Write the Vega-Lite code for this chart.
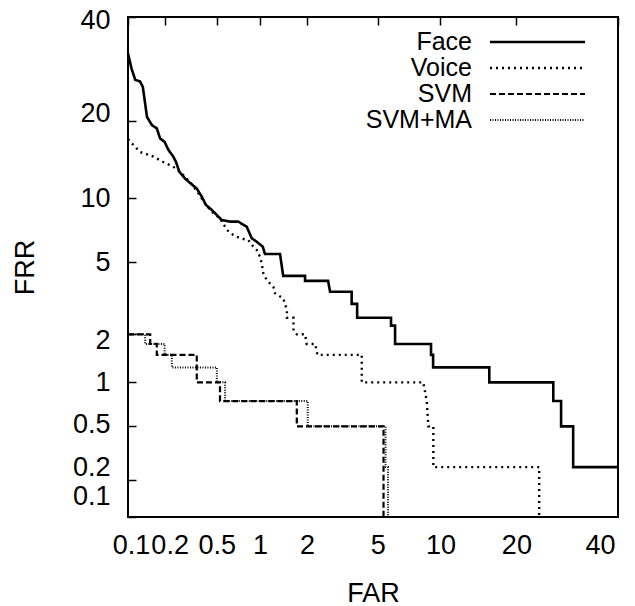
{
 "$schema": "https://vega.github.io/schema/vega-lite/v6.json",
 "width": 490, "height": 500,
 "autosize": "none",
 "padding": {"left": 128, "top": 17, "right": 17, "bottom": 89},
 "background": "white",
 "config": {
  "view": {"stroke": "black", "strokeWidth": 2},
  "font": "Liberation Sans",
  "axis": {"domain": false, "ticks": true, "tickColor": "transparent", "tickSize": 8, "offset": 0,
   "grid": true, "gridColor": "black", "gridOpacity": 1, "gridWidth": 1.5, "gridDash": [8, 2000],
   "labelFontSize": 27, "labelColor": "black", "labelFont": "Liberation Sans",
   "titleFont": "Liberation Sans", "titleFontSize": 27, "titleFontWeight": "normal", "titleColor": "black"}
 },
 "data": {"values": [
  {"s":"Face","i":1,"FAR":0.1,"FRR":32.3},{"s":"Face","i":2,"FAR":0.107,"FRR":29.3},{"s":"Face","i":3,"FAR":0.115,"FRR":27.1},
  {"s":"Face","i":4,"FAR":0.126,"FRR":26.8},{"s":"Face","i":5,"FAR":0.133,"FRR":25.8},{"s":"Face","i":6,"FAR":0.144,"FRR":20.6},
  {"s":"Face","i":7,"FAR":0.158,"FRR":19.3},{"s":"Face","i":8,"FAR":0.173,"FRR":18.8},{"s":"Face","i":9,"FAR":0.184,"FRR":17.3},
  {"s":"Face","i":10,"FAR":0.2,"FRR":16.8},{"s":"Face","i":11,"FAR":0.214,"FRR":15.7},{"s":"Face","i":12,"FAR":0.234,"FRR":14.8},
  {"s":"Face","i":13,"FAR":0.246,"FRR":14.1},{"s":"Face","i":14,"FAR":0.261,"FRR":12.9},{"s":"Face","i":15,"FAR":0.289,"FRR":12.1},
  {"s":"Face","i":16,"FAR":0.316,"FRR":11.6},{"s":"Face","i":17,"FAR":0.355,"FRR":11.0},{"s":"Face","i":18,"FAR":0.387,"FRR":10.15},
  {"s":"Face","i":19,"FAR":0.416,"FRR":9.35},{"s":"Face","i":20,"FAR":0.459,"FRR":8.88},{"s":"Face","i":21,"FAR":0.5,"FRR":8.43},
  {"s":"Face","i":22,"FAR":0.542,"FRR":8.0},{"s":"Face","i":23,"FAR":0.622,"FRR":7.86},{"s":"Face","i":24,"FAR":0.711,"FRR":7.86},
  {"s":"Face","i":25,"FAR":0.813,"FRR":7.45},{"s":"Face","i":26,"FAR":0.88,"FRR":6.57},{"s":"Face","i":27,"FAR":0.952,"FRR":6.32},
  {"s":"Face","i":28,"FAR":1.044,"FRR":5.98},{"s":"Face","i":29,"FAR":1.08,"FRR":5.5},{"s":"Face","i":30,"FAR":1.355,"FRR":5.5},
  {"s":"Face","i":31,"FAR":1.42,"FRR":4.25},{"s":"Face","i":32,"FAR":1.945,"FRR":4.25},{"s":"Face","i":33,"FAR":1.945,"FRR":4.0},
  {"s":"Face","i":34,"FAR":2.67,"FRR":4.0},{"s":"Face","i":35,"FAR":2.74,"FRR":3.5},{"s":"Face","i":36,"FAR":3.63,"FRR":3.5},
  {"s":"Face","i":37,"FAR":3.63,"FRR":3.0},{"s":"Face","i":38,"FAR":3.89,"FRR":3.0},{"s":"Face","i":39,"FAR":3.89,"FRR":2.5},
  {"s":"Face","i":40,"FAR":5.85,"FRR":2.5},{"s":"Face","i":41,"FAR":5.85,"FRR":2.25},{"s":"Face","i":42,"FAR":6.13,"FRR":2.25},
  {"s":"Face","i":43,"FAR":6.13,"FRR":1.75},{"s":"Face","i":44,"FAR":9.08,"FRR":1.75},{"s":"Face","i":45,"FAR":9.08,"FRR":1.5},
  {"s":"Face","i":46,"FAR":9.28,"FRR":1.5},{"s":"Face","i":47,"FAR":9.28,"FRR":1.25},{"s":"Face","i":48,"FAR":15.9,"FRR":1.25},
  {"s":"Face","i":49,"FAR":15.9,"FRR":1.0},{"s":"Face","i":50,"FAR":26.5,"FRR":1.0},{"s":"Face","i":51,"FAR":26.5,"FRR":0.75},
  {"s":"Face","i":52,"FAR":28.0,"FRR":0.75},{"s":"Face","i":53,"FAR":28.0,"FRR":0.5},{"s":"Face","i":54,"FAR":30.4,"FRR":0.5},
  {"s":"Face","i":55,"FAR":30.4,"FRR":0.25},{"s":"Face","i":56,"FAR":40,"FRR":0.25},
  {"s":"Voice","i":1,"FAR":0.1,"FRR":17.2},{"s":"Voice","i":2,"FAR":0.115,"FRR":16.1},{"s":"Voice","i":3,"FAR":0.126,"FRR":15.4},
  {"s":"Voice","i":4,"FAR":0.144,"FRR":15.1},{"s":"Voice","i":5,"FAR":0.162,"FRR":14.8},{"s":"Voice","i":6,"FAR":0.195,"FRR":14.1},
  {"s":"Voice","i":7,"FAR":0.234,"FRR":13.5},{"s":"Voice","i":8,"FAR":0.264,"FRR":12.9},{"s":"Voice","i":9,"FAR":0.316,"FRR":11.7},
  {"s":"Voice","i":10,"FAR":0.365,"FRR":10.5},{"s":"Voice","i":11,"FAR":0.409,"FRR":9.5},{"s":"Voice","i":12,"FAR":0.459,"FRR":8.72},
  {"s":"Voice","i":13,"FAR":0.527,"FRR":8.14},{"s":"Voice","i":14,"FAR":0.592,"FRR":7.19},{"s":"Voice","i":15,"FAR":0.656,"FRR":6.81},
  {"s":"Voice","i":16,"FAR":0.731,"FRR":6.57},{"s":"Voice","i":17,"FAR":0.834,"FRR":6.44},{"s":"Voice","i":18,"FAR":0.902,"FRR":5.98},
  {"s":"Voice","i":19,"FAR":0.952,"FRR":5.76},{"s":"Voice","i":20,"FAR":1.0,"FRR":5.33},{"s":"Voice","i":21,"FAR":1.028,"FRR":4.94},
  {"s":"Voice","i":22,"FAR":1.053,"FRR":4.39},{"s":"Voice","i":23,"FAR":1.11,"FRR":4.04},{"s":"Voice","i":24,"FAR":1.226,"FRR":3.72},
  {"s":"Voice","i":25,"FAR":1.258,"FRR":3.43},{"s":"Voice","i":26,"FAR":1.42,"FRR":3.22},{"s":"Voice","i":27,"FAR":1.5,"FRR":2.77},
  {"s":"Voice","i":28,"FAR":1.5,"FRR":2.5},{"s":"Voice","i":29,"FAR":1.65,"FRR":2.5},{"s":"Voice","i":30,"FAR":1.65,"FRR":2.1},
  {"s":"Voice","i":31,"FAR":1.73,"FRR":2.0},{"s":"Voice","i":32,"FAR":1.945,"FRR":2.0},{"s":"Voice","i":33,"FAR":1.99,"FRR":1.75},
  {"s":"Voice","i":34,"FAR":2.24,"FRR":1.75},{"s":"Voice","i":35,"FAR":2.31,"FRR":1.5},{"s":"Voice","i":36,"FAR":4.12,"FRR":1.5},
  {"s":"Voice","i":37,"FAR":4.12,"FRR":1.0},{"s":"Voice","i":38,"FAR":8.37,"FRR":1.0},{"s":"Voice","i":39,"FAR":8.68,"FRR":0.75},
  {"s":"Voice","i":40,"FAR":8.83,"FRR":0.5},{"s":"Voice","i":41,"FAR":9.3,"FRR":0.5},{"s":"Voice","i":42,"FAR":9.3,"FRR":0.25},
  {"s":"Voice","i":43,"FAR":23.9,"FRR":0.25},{"s":"Voice","i":44,"FAR":23.9,"FRR":0.1},
  {"s":"SVM","i":1,"FAR":0.1,"FRR":2},{"s":"SVM","i":2,"FAR":0.153,"FRR":2},{"s":"SVM","i":3,"FAR":0.153,"FRR":1.75},
  {"s":"SVM","i":4,"FAR":0.173,"FRR":1.75},{"s":"SVM","i":5,"FAR":0.173,"FRR":1.5},{"s":"SVM","i":6,"FAR":0.355,"FRR":1.5},
  {"s":"SVM","i":7,"FAR":0.355,"FRR":1.0},{"s":"SVM","i":8,"FAR":0.527,"FRR":1.0},{"s":"SVM","i":9,"FAR":0.527,"FRR":0.75},
  {"s":"SVM","i":10,"FAR":1.73,"FRR":0.75},{"s":"SVM","i":11,"FAR":1.73,"FRR":0.5},{"s":"SVM","i":12,"FAR":5.36,"FRR":0.5},
  {"s":"SVM","i":13,"FAR":5.36,"FRR":0.1},
  {"s":"SVM+MA","i":1,"FAR":0.1,"FRR":2},{"s":"SVM+MA","i":2,"FAR":0.139,"FRR":2},{"s":"SVM+MA","i":3,"FAR":0.139,"FRR":1.75},
  {"s":"SVM+MA","i":4,"FAR":0.2,"FRR":1.75},{"s":"SVM+MA","i":5,"FAR":0.2,"FRR":1.5},{"s":"SVM+MA","i":6,"FAR":0.228,"FRR":1.5},
  {"s":"SVM+MA","i":7,"FAR":0.228,"FRR":1.25},{"s":"SVM+MA","i":8,"FAR":0.5,"FRR":1.25},{"s":"SVM+MA","i":9,"FAR":0.5,"FRR":1.0},
  {"s":"SVM+MA","i":10,"FAR":0.573,"FRR":1.0},{"s":"SVM+MA","i":11,"FAR":0.573,"FRR":0.75},{"s":"SVM+MA","i":12,"FAR":2.02,"FRR":0.75},
  {"s":"SVM+MA","i":13,"FAR":2.02,"FRR":0.5},{"s":"SVM+MA","i":14,"FAR":5.49,"FRR":0.5},{"s":"SVM+MA","i":15,"FAR":5.49,"FRR":0.25},
  {"s":"SVM+MA","i":16,"FAR":5.65,"FRR":0.25},{"s":"SVM+MA","i":17,"FAR":5.65,"FRR":0.1}
 ]},
 "transform": [
  {"calculate": "quantileNormal(datum.FAR/100)", "as": "px"},
  {"calculate": "quantileNormal(datum.FRR/100)", "as": "py"}
 ],
 "layer": [
  {
   "mark": {"type": "line", "color": "black", "strokeCap": "butt"},
   "encoding": {
    "x": {"field": "px", "type": "quantitative",
     "scale": {"domain": [-3.090232, -0.253347], "nice": false, "zero": false},
     "axis": {"orient": "bottom", "title": "FAR", "titlePadding": 22,
      "values": [-3.090232, -2.878162, -2.575829, -2.326348, -2.053749, -1.644854, -1.281552, -0.841621, -0.253347],
      "labelExpr": "toString(round(cumulativeNormal(datum.value)*1000)/10)",
      "labelPadding": 7, "labelFlush": false, "labelOverlap": false,
      "labelOffset": {"condition": [{"test": "datum.value > -0.3", "value": -18}, {"test": "datum.value < -3", "value": 3}, {"test": "datum.value < -2.8", "value": 5}], "value": 0}}},
    "y": {"field": "py", "type": "quantitative",
     "scale": {"domain": [-3.090232, -0.253347], "nice": false, "zero": false},
     "axis": {"orient": "left", "title": "FRR", "titlePadding": 33,
      "values": [-3.090232, -2.878162, -2.575829, -2.326348, -2.053749, -1.644854, -1.281552, -0.841621, -0.253347],
      "labelExpr": "toString(round(cumulativeNormal(datum.value)*1000)/10)",
      "labelPadding": 10, "labelFlush": false, "labelOverlap": false,
      "labelOffset": {"condition": [{"test": "datum.value < -3", "value": -21}, {"test": "datum.value < -2.8", "value": -12}, {"test": "datum.value < -2.5", "value": -2}, {"test": "datum.value > -2.1 && datum.value < -2.0", "value": 6}, {"test": "datum.value > -0.9 && datum.value < -0.8", "value": -7}, {"test": "datum.value > -0.3", "value": 3}], "value": 0}}},
    "order": {"field": "i", "type": "quantitative"},
    "strokeDash": {"field": "s", "type": "nominal",
     "scale": {"domain": ["Face", "Voice", "SVM", "SVM+MA"], "range": [[1, 0], [2, 4], [6, 3], [1, 1.5]]},
     "legend": {"orient": "none", "legendX": 397, "legendY": 12.5, "title": null, "symbolType": "M-5,0H5", "symbolSize": 361,
      "symbolStrokeColor": "black", "symbolStrokeWidth": 2.5, "labelFontSize": 25, "labelFont": "Liberation Sans", "labelColor": "black",
      "labelAlign": "right", "labelOffset": -78, "rowPadding": 0, "padding": 0}},
    "strokeWidth": {"field": "s", "type": "ordinal",
     "scale": {"domain": ["Face", "Voice", "SVM", "SVM+MA"], "range": [2.6, 2, 2, 1.6]}, "legend": null}
   }
  },
  {
   "mark": {"type": "line", "opacity": 0},
   "encoding": {
    "x": {"field": "px", "type": "quantitative",
     "axis": {"orient": "top", "title": null, "labels": false,
      "values": [-3.090232, -2.878162, -2.575829, -2.326348, -2.053749, -1.644854, -1.281552, -0.841621, -0.253347]}},
    "y": {"field": "py", "type": "quantitative",
     "axis": {"orient": "right", "title": null, "labels": false,
      "values": [-3.090232, -2.878162, -2.575829, -2.326348, -2.053749, -1.644854, -1.281552, -0.841621, -0.253347]}},
    "detail": {"field": "s", "type": "nominal"},
    "order": {"field": "i", "type": "quantitative"}
   }
  }
 ],
 "resolve": {"axis": {"x": "independent", "y": "independent"}}
}
